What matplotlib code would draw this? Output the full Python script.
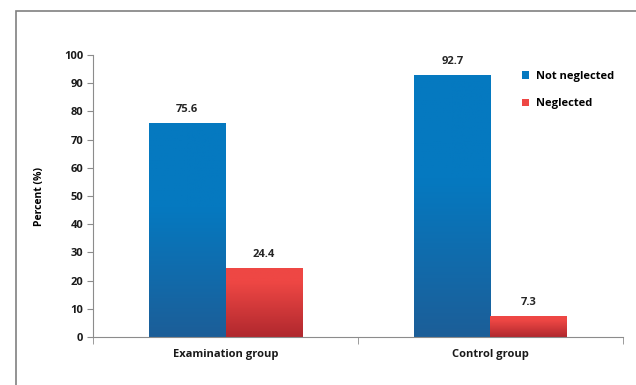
import matplotlib.pyplot as plt
import numpy as np
from matplotlib.patches import Rectangle
from matplotlib.colors import to_rgb

plt.rcParams['font.family'] = ['Open Sans', 'DejaVu Sans']

groups = ['Examination group', 'Control group']
series = ['Not neglected', 'Neglected']
not_neglected = [75.6, 92.7]
neglected = [24.4, 7.3]

top_colors = ['#0579C0', '#EE4744']
bottom_colors = ['#1C5E98', '#B0282E']

fig = plt.figure(figsize=(6.36, 3.85), dpi=100)
# outer frame like the original slide
fig.add_artist(Rectangle((16 / 636, -0.05), 1.2, 1 - 11 / 385 + 0.05, transform=fig.transFigure,
                         fill=False, edgecolor='#808080', linewidth=1.2))
ax = fig.add_axes([93 / 636, 1 - 337 / 385, (623 - 93) / 636, (337 - 55) / 385])

x = np.arange(len(groups))
width = 0.288


def gradient_bar(ax, x0, h, w, c_top, c_bot, reach):
    grad = np.clip(np.linspace(0, 1, 128) / reach, 0, 1).reshape(-1, 1, 1)
    top = np.array(to_rgb(c_top))
    bot = np.array(to_rgb(c_bot))
    img = bot * (1 - grad) + top * grad
    ax.imshow(img, extent=[x0, x0 + w, 0, h], origin='lower', aspect='auto', zorder=2)


for i, vals in enumerate([not_neglected, neglected]):
    offs = -width / 2 if i == 0 else width / 2
    for xi, v in zip(x, vals):
        gradient_bar(ax, xi + offs - width / 2, v, width, top_colors[i], bottom_colors[i],
                     0.6 if i == 0 else 0.8)
        ax.text(xi + offs, v + 3, f'{v}', ha='center', va='bottom', fontsize=8,
                fontweight='bold', color='#262626')
    ax.bar([0], [0], color=top_colors[i], label=series[i])

ax.set_xlim(-0.5, 1.5)
ax.set_ylim(0, 100)
ax.set_yticks(range(0, 101, 10))
ax.set_xticks([-0.5, 0.5, 1.5], minor=True)
ax.set_xticks(x)
ax.set_xticklabels(groups)
ax.tick_params(axis='x', which='major', length=0, pad=9)
ax.tick_params(axis='x', which='minor', length=5, color='#8c8c8c')
ax.tick_params(axis='y', length=4, color='#8c8c8c', pad=3)
for lab in ax.get_xticklabels() + ax.get_yticklabels():
    lab.set_fontsize(8)
    lab.set_fontweight('bold')
    lab.set_color('#1a1a1a')
for s in ['top', 'right']:
    ax.spines[s].set_visible(False)
for s in ['left', 'bottom']:
    ax.spines[s].set_color('#8c8c8c')
    ax.spines[s].set_linewidth(0.8)
ax.set_ylabel('Percent (%)', fontsize=7.5, fontweight='bold', labelpad=14)

ax.legend(loc='upper left', bbox_to_anchor=(0.79, 0.98), frameon=False,
          handlelength=0.7, handleheight=0.7, labelspacing=1.5, handletextpad=0.6,
          prop={'weight': 'bold', 'size': 8})

fig.savefig('out.png', dpi=100)
